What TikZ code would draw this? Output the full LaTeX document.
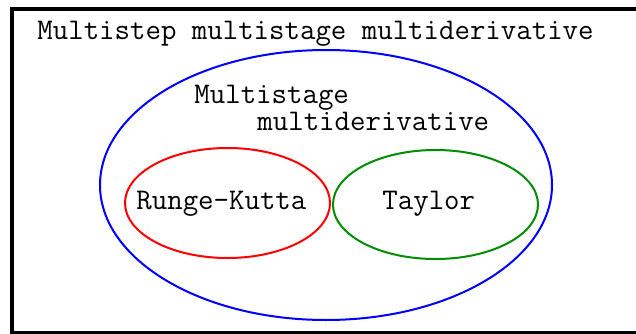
\documentclass[tikz,border=0pt]{standalone}
\usetikzlibrary{shapes}
\usetikzlibrary{positioning}
\definecolor{setgreen}{rgb}{0,0.55,0}
\tikzstyle{frame}=[draw=black,line width=2pt]
\tikzstyle{set}=[draw,ellipse,line width=1pt,inner sep=0,outer sep=0]
\tikzstyle{setname}=[anchor=base west,inner sep=0,font=\ttfamily\fontsize{15}{13.5}\selectfont]

\begin{document}
\begin{tikzpicture}[x=0.5pt,y=0.5pt]
\useasboundingbox (0,0) rectangle (636,333);

\node[frame,minimum width=317.5pt,minimum height=162pt,anchor=north west,inner sep=0] (all) at (10,326) {};
\node[setname] (msmsmd) at (37,293.5) {Multistep multistage multiderivative};

\node[set,draw=blue,minimum width=226pt,minimum height=135pt] (msmd) at (326,148) {};
\node[setname,align=left] (msmdl) at (194,203) {Multistage\\\hspace*{31.5pt}multiderivative};

\node[set,draw=red,minimum width=102.5pt,minimum height=55pt] (rk) at (227.5,130) {};
\node[setname] (rkl) at (136,124) {Runge-Kutta};

\node[set,draw=setgreen,minimum width=102.5pt,minimum height=54.5pt] (tay) at (435.5,128.5) {};
\node[setname] (tayl) at (382,124) {Taylor};

\end{tikzpicture}
\end{document}
